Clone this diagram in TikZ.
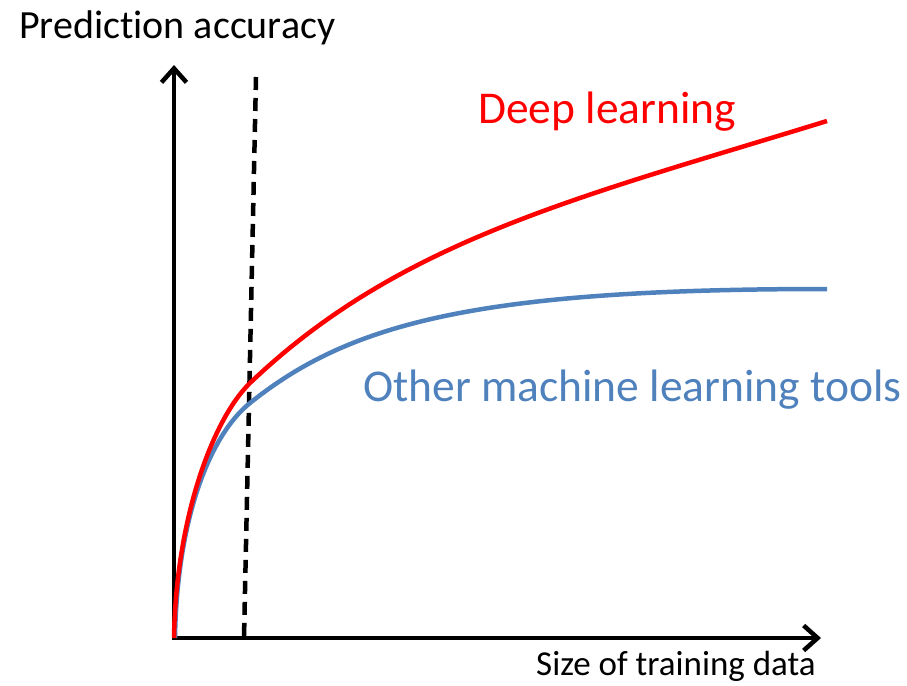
\documentclass[tikz,border=0pt]{standalone}
\usepackage{fontspec}
\setmainfont{Carlito}[Ligatures=CommonOff]
\usetikzlibrary{arrows.meta,positioning}
\definecolor{dlred}{RGB}{255,0,0}
\definecolor{mlblue}{RGB}{79,129,189}

\tikzset{
  axis/.style = {line width=4.5pt, -{Straight Barb[length=14pt, width=25pt]}},
  curve/.style = {line width=4.5pt},
  label/.style = {anchor=base west, inner sep=0pt},
}

\begin{document}
\begin{tikzpicture}[x = 1pt, y = -1pt]
\useasboundingbox (0,0) rectangle (907,685);
\coordinate (o) at (174,638);
\coordinate (ytip) at (174,65);
\coordinate (xtip) at (821,638);
\coordinate (dtop) at (256,77);
\coordinate (dbot) at (244,638);
\coordinate (rmid) at (250,383);
\coordinate (rend) at (827,121);
\coordinate (bmid) at (250,403);
\coordinate (bend) at (827,289);
\draw[axis] (o) -- (ytip);
\draw[axis] (172,638) -- (xtip);
\draw[line width=4.5pt, dash pattern=on 13pt off 8pt] (dtop) -- (dbot);
% other tools: levels off
\draw[curve, mlblue] (175,638) .. controls (177,518) and (210,435) .. (bmid)
  .. controls (350,323) and (477,289) .. (bend);
% deep learning: keeps rising
\draw[curve, dlred] (174,638) .. controls (176,518) and (213,419) .. (rmid)
  .. controls (400,240) and (577,198) .. (rend);
\node[label, font = \fontsize{40}{44}\selectfont] (ylab) at (19,38) {Prediction accuracy};
\node[label, font = \fontsize{35}{38}\selectfont] (xlab) at (536,675) {Size of training data};
\node[label, text = dlred, font = \fontsize{45.5}{48}\selectfont] (dl) at (478,123) {Deep learning};
\node[label, text = mlblue, font = \fontsize{45.5}{48}\selectfont] (ml) at (363,401) {Other machine learning tools};
\end{tikzpicture}
\end{document}
